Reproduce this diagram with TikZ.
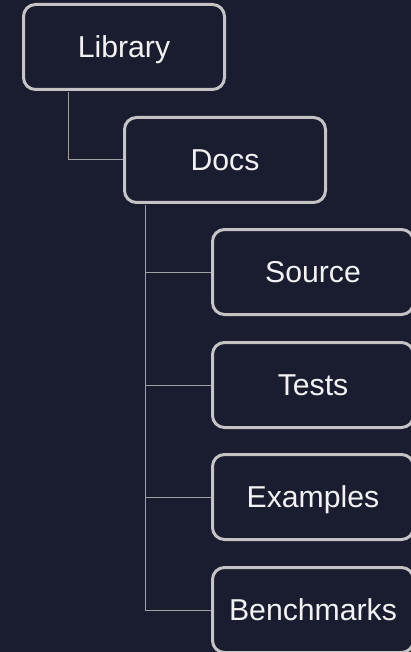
\documentclass[tikz,border=0pt]{standalone}
\usepackage{fontspec}
\setmainfont{Liberation Sans}
\definecolor{bgnavy}{HTML}{191D2F}
\definecolor{boxline}{HTML}{C4C4C4}
\definecolor{linkgray}{HTML}{A0A0A0}
\definecolor{labelwhite}{HTML}{F2F2F2}
\tikzset{
  treebox/.style={draw=boxline, line width=3pt, fill=bgnavy, rounded corners=12pt,
    minimum width=201pt, minimum height=85pt, inner sep=0pt,
    text height=21.6pt, text depth=0pt,
    text=labelwhite, font=\fontsize{30.2}{33}\selectfont},
  link/.style={draw=linkgray, line width=1pt}
}
\begin{document}
\begin{tikzpicture}[x=1pt,y=-1pt]
  \fill[bgnavy] (0,0) rectangle (411,652);
  \useasboundingbox (0,0) rectangle (411,652);

  % boxes of the tree
  \node[treebox] (lib)   at (124,47)  {Library};
  \node[treebox] (docs)  at (225,160) {Docs};
  \node[treebox] (src)   at (313,272) {Source};
  \node[treebox] (tests) at (313,385) {Tests};
  \node[treebox] (ex)    at (313,497) {Examples};
  \node[treebox] (bench) at (313,610) {Benchmarks};

  % elbow connectors from each parent to its children
  \path[link] ([xshift=46pt,yshift=-1.5pt]lib.south west) |- (docs.west);
  \foreach \child in {src,tests,ex,bench}
    \path[link] ([xshift=22pt,yshift=-1.5pt]docs.south west) |- (\child.west);
\end{tikzpicture}
\end{document}
